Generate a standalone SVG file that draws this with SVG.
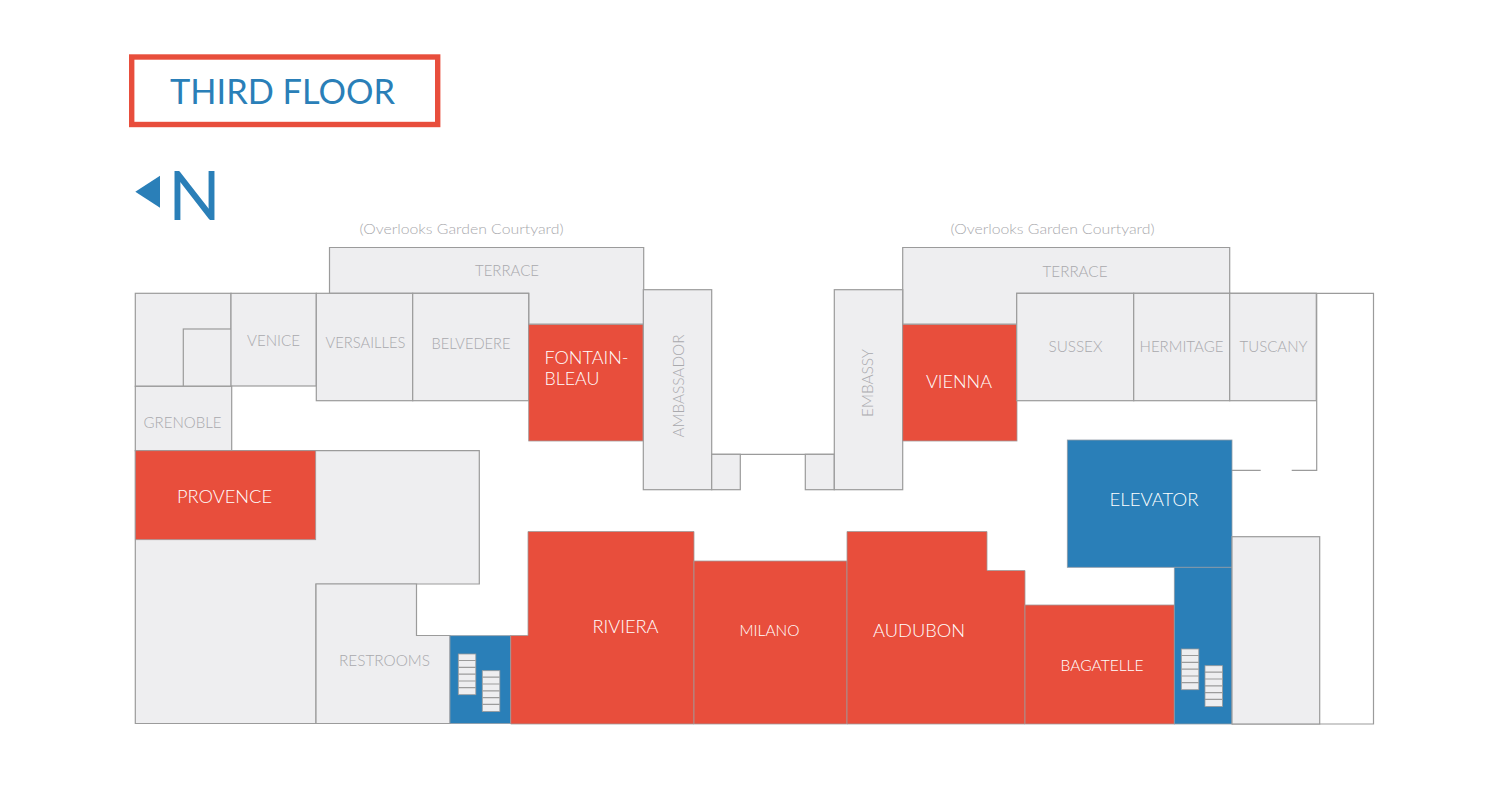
<svg xmlns="http://www.w3.org/2000/svg" width="1509" height="786" viewBox="0 0 1509 786">
<defs>
<style>
text{font-family:Lato,"Noto Sans","Liberation Sans",sans-serif;text-anchor:middle}
.g{fill:#eeeef0;stroke:#9b9b9b;stroke-width:1.2}
.r{fill:#e84e3c;stroke:#a09a9a;stroke-width:.8}
.b{fill:#2a7fb8;stroke:#8f9ba5;stroke-width:.8}
.l{fill:none;stroke:#9b9b9b;stroke-width:1.2}
.t{fill:#a9a9ad;font-size:15px;font-weight:300}
.w{fill:#fff;font-size:17.5px;font-weight:300}
.s{fill:#eeeef0;stroke:#9b9b9b;stroke-width:.8}
.n{fill:none;stroke:#9b9b9b;stroke-width:1.2}
</style>
<g id="stair"><rect class="s" x="0" y="0" width="17.5" height="40.7"/><path class="n" d="M0 6.500H17.500M0 13.300H17.500M0 20.200H17.500M0 27H17.500M0 33.700H17.500"/></g>
</defs>
<rect width="1509" height="786" fill="#fff"/>
<g id="title"><rect x="131.700" y="57" width="306" height="67.500" fill="#fff" stroke="#e84e3c" stroke-width="5.400"/><text x="282.500" y="104" font-size="35" fill="#2a7fb8" textLength="225" lengthAdjust="spacingAndGlyphs">THIRD FLOOR</text></g>
<g id="north"><polygon points="135.300,191.700 160,175.700 160,207.700" fill="#2a7fb8"/><text x="194.500" y="220" font-size="68" fill="#2a7fb8" textLength="52.500" lengthAdjust="spacingAndGlyphs">N</text></g>
<text x="461.500" y="233.500" class="t" style="font-size:14px" textLength="204" lengthAdjust="spacingAndGlyphs">(Overlooks Garden Courtyard)</text>
<text x="1052.500" y="233.500" class="t" style="font-size:14px" textLength="204" lengthAdjust="spacingAndGlyphs">(Overlooks Garden Courtyard)</text>
<g id="outer-wing"><path class="l" d="M1017 293.300H1373.500V724H1232"/><path class="l" d="M1316.700 293.300V470.300H1291.700M1260.700 470.300H1232M711.700 454.300H834"/></g>
<g id="terrace-w"><polygon class="g" points="329.500,293.300 329.500,247.500 643.700,247.500 643.700,324 528.700,324 528.700,293.300"/><text class="t" x="507" y="276" textLength="64" lengthAdjust="spacingAndGlyphs">TERRACE</text></g>
<g id="terrace-e"><polygon class="g" points="902.700,324 902.700,247.500 1229.700,247.500 1229.700,293.300 1016.700,293.300 1016.700,324"/><text class="t" x="1075" y="277" textLength="65" lengthAdjust="spacingAndGlyphs">TERRACE</text></g>
<g id="nw-room"><rect class="g" x="135.300" y="293.300" width="95.700" height="93"/><rect class="g" x="183.300" y="329" width="48" height="57.300"/></g>
<g id="venice"><rect class="g" x="231" y="293.300" width="85.300" height="92.700"/><text class="t" x="273.500" y="346" textLength="53" lengthAdjust="spacingAndGlyphs">VENICE</text></g>
<g id="versailles"><rect class="g" x="316.300" y="293.300" width="96.400" height="107.400"/><text class="t" x="365.500" y="348" textLength="80" lengthAdjust="spacingAndGlyphs">VERSAILLES</text></g>
<g id="belvedere"><rect class="g" x="412.700" y="293.300" width="116" height="107.400"/><text class="t" x="471" y="349" textLength="79" lengthAdjust="spacingAndGlyphs">BELVEDERE</text></g>
<g id="grenoble"><rect class="g" x="135.300" y="386.300" width="96.400" height="64.400"/><text class="t" x="182.500" y="428" textLength="78" lengthAdjust="spacingAndGlyphs">GRENOBLE</text></g>
<g id="west-wing"><polygon class="g" points="135.300,450.700 479.300,450.700 479.300,584 316,584 316,723.500 135.300,723.500"/></g>
<g id="provence"><rect class="r" x="135.300" y="450.700" width="180.400" height="89"/><text class="w" x="224.500" y="503" textLength="95" lengthAdjust="spacingAndGlyphs">PROVENCE</text></g>
<g id="restrooms"><polygon class="g" points="316,584 416.500,584 416.500,635.500 450,635.500 450,723.500 316,723.500"/><text class="t" x="384.500" y="666" textLength="91" lengthAdjust="spacingAndGlyphs">RESTROOMS</text></g>
<g id="stairs-west"><rect class="b" x="450" y="635.700" width="60.700" height="87.800"/><use href="#stair" x="458.300" y="654"/><use href="#stair" x="482.300" y="670.700"/></g>
<g id="fontainebleau"><rect class="r" x="528.700" y="324.500" width="114.600" height="116.500"/><text class="w" x="586.500" y="364" textLength="84" lengthAdjust="spacingAndGlyphs">FONTAIN-</text><text class="w" x="572" y="385" textLength="55" lengthAdjust="spacingAndGlyphs">BLEAU</text></g>
<g id="ambassador"><rect class="g" x="643.300" y="289.700" width="68.400" height="200"/><text class="t" x="0" y="0" transform="translate(684 386) rotate(-90)" textLength="103" lengthAdjust="spacingAndGlyphs">AMBASSADOR</text></g>
<g id="ambassador-annex"><rect class="g" x="711.700" y="454.300" width="28.600" height="35.400"/></g>
<g id="embassy-annex"><rect class="g" x="805.300" y="454.300" width="29" height="35.400"/></g>
<g id="embassy"><rect class="g" x="834.300" y="289.700" width="68.400" height="200"/><text class="t" x="0" y="0" transform="translate(873 383) rotate(-90)" textLength="68" lengthAdjust="spacingAndGlyphs">EMBASSY</text></g>
<g id="vienna"><rect class="r" x="902.700" y="324.500" width="114.300" height="116.500"/><text class="w" x="959" y="388" textLength="66" lengthAdjust="spacingAndGlyphs">VIENNA</text></g>
<g id="sussex"><rect class="g" x="1016.700" y="293.300" width="117" height="107.400"/><text class="t" x="1075.500" y="352" textLength="54" lengthAdjust="spacingAndGlyphs">SUSSEX</text></g>
<g id="hermitage"><rect class="g" x="1133.700" y="293.300" width="96" height="107.400"/><text class="t" x="1181.500" y="352" textLength="84" lengthAdjust="spacingAndGlyphs">HERMITAGE</text></g>
<g id="tuscany"><rect class="g" x="1229.700" y="293.300" width="86.600" height="107.400"/><text class="t" x="1273.500" y="352" textLength="68" lengthAdjust="spacingAndGlyphs">TUSCANY</text></g>
<g id="riviera"><polygon class="r" points="528,531.500 694,531.500 694,724 510.700,724 510.700,635.500 528,635.500"/><text class="w" x="625.500" y="633" textLength="66" lengthAdjust="spacingAndGlyphs">RIVIERA</text></g>
<g id="milano"><rect class="r" x="694" y="561" width="153" height="163"/><text class="w" x="769.500" y="636" style="font-size:15px" textLength="60" lengthAdjust="spacingAndGlyphs">MILANO</text></g>
<g id="audubon"><polygon class="r" points="847,531.500 987,531.500 987,570.500 1025,570.500 1025,724 847,724"/><text class="w" x="919" y="637" textLength="92" lengthAdjust="spacingAndGlyphs">AUDUBON</text></g>
<g id="bagatelle"><rect class="r" x="1025" y="605" width="149.300" height="119"/><text class="w" x="1102" y="671" style="font-size:15px" textLength="83" lengthAdjust="spacingAndGlyphs">BAGATELLE</text></g>
<g id="elevator"><rect class="b" x="1067.300" y="440" width="164.700" height="127.300"/><text class="w" x="1154" y="506" textLength="89" lengthAdjust="spacingAndGlyphs">ELEVATOR</text></g>
<g id="stairs-east"><rect class="b" x="1174.300" y="567.300" width="57.700" height="156.700"/><use href="#stair" x="1181.300" y="649"/><use href="#stair" x="1205" y="665.700"/></g>
<g id="east-room"><rect class="g" x="1232" y="536.700" width="87.700" height="187.300"/></g>
</svg>
